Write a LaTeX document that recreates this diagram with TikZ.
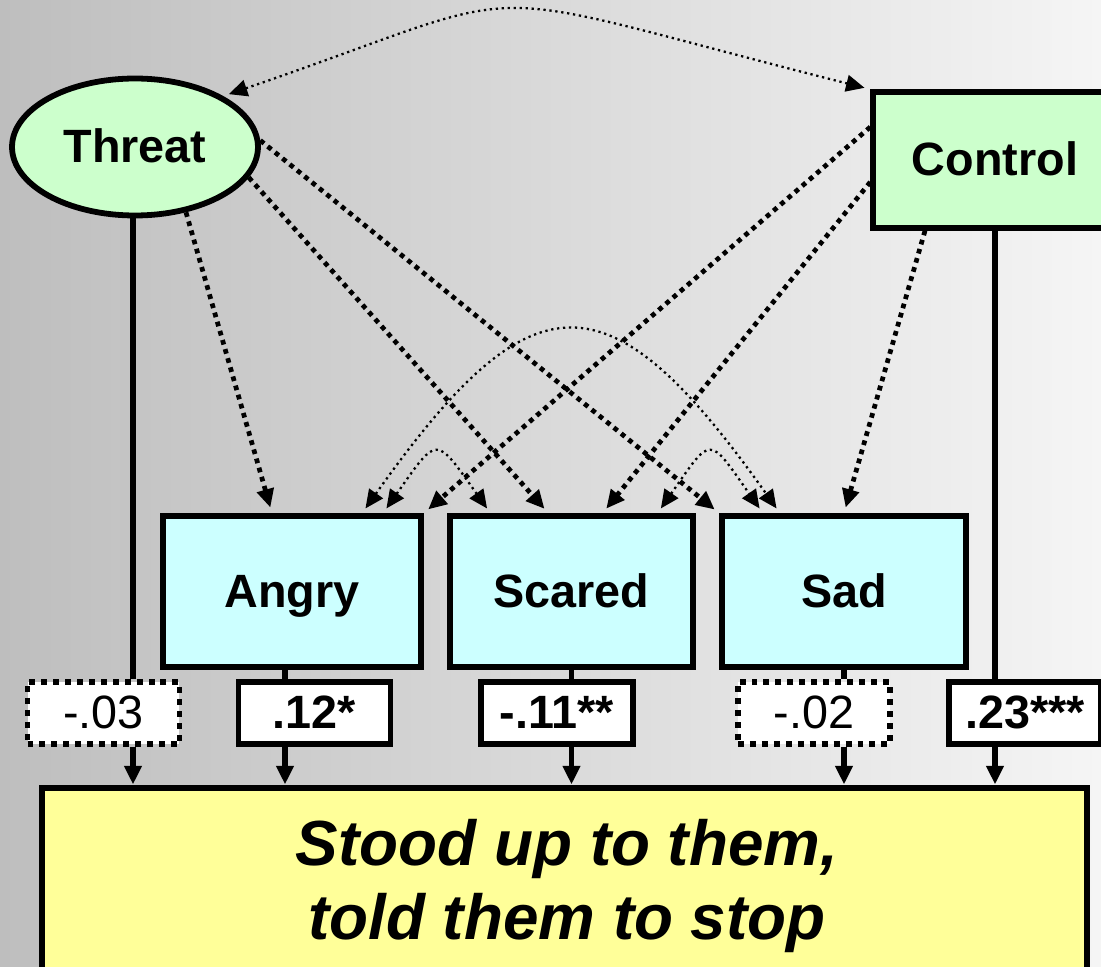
\documentclass[tikz,border=0pt]{standalone}
\usepackage{fontspec}
\setmainfont{Liberation Sans}
\usetikzlibrary{arrows.meta,shapes.geometric,calc}
\definecolor{threatfill}{HTML}{CCFFCC}
\definecolor{emofill}{HTML}{CCFFFF}
\definecolor{outfill}{HTML}{FFFF99}
\definecolor{bgleft}{HTML}{BEBEBE}
\definecolor{bgright}{HTML}{F5F5F5}
\begin{document}
\begin{tikzpicture}[x=0.02cm,y=-0.02cm,
  bx/.style={draw, line width=3.1pt, inner sep=0pt, text height=23.5pt, text depth=5.3pt, font=\fontsize{26.6}{32}\selectfont\bfseries},
  lab/.style={draw, fill=white, line width=3.1pt, minimum width=3.04cm, minimum height=1.24cm, inner sep=0pt, text height=22.5pt, text depth=5.3pt, font=\fontsize{26.6}{32}\selectfont},
  labdot/.style={lab, dash pattern=on 3.4pt off 3.4pt},
  tipshape/.tip={Triangle[length=10.5pt,width=9.5pt]},
  solidline/.style={line width=3pt},
  solidarr/.style={line width=3pt, -tipshape, shorten >=0.5pt},
  thickdot/.style={line width=2.7pt, dash pattern=on 2.7pt off 2.7pt, -tipshape, shorten >=3.4pt},
  thindot/.style={line width=1.3pt, dash pattern=on 1.3pt off 2.1pt, tipshape-tipshape, shorten >=3.4pt, shorten <=3.4pt}
]
\useasboundingbox (0,0) rectangle (1101,966);
\clip (0,0) rectangle (1101,966);
\shade[left color=bgleft, right color=bgright] (0,0) rectangle (1101,966);

% nodes
\node[bx, ellipse, fill=threatfill, minimum width=4.92cm, minimum height=2.74cm, line width=3.3pt] (threat) at (135,147) {Threat};
\node[bx, fill=threatfill, minimum width=4.88cm, minimum height=2.72cm] (control) at (995,160) {Control};
\node[bx, fill=emofill, minimum width=5.16cm, minimum height=3.02cm] (angry) at (292,591.5) {Angry};
\node[bx, fill=emofill, minimum width=4.86cm, minimum height=3.02cm] (scared) at (571.5,591.5) {Scared};
\node[bx, fill=emofill, minimum width=4.88cm, minimum height=3.02cm] (sad) at (844,591.5) {Sad};
\node[draw, line width=3.1pt, fill=outfill, minimum width=20.9cm, minimum height=5.24cm, inner sep=0pt] (outcome) at (564.5,919) {};
\node[font=\fontsize{36.3}{42}\selectfont\bfseries\itshape, align=center, inner sep=0pt] (outtext) at (567,886) {Stood up to them,\\told them to stop};

% labels
\node[labdot] (l1) at (103.5,713) {-.03};
\node[lab, font=\fontsize{26.6}{32}\selectfont\bfseries] (l2) at (314.5,713) {.12*};
\node[lab, font=\fontsize{26.6}{32}\selectfont\bfseries] (l3) at (557,713) {-.11**};
\node[labdot] (l4) at (814,713) {-.02};
\node[lab, font=\fontsize{26.6}{32}\selectfont\bfseries] (l5) at (1025,713) {.23***};

% solid paths to outcome
\coordinate (ax) at ($(angry.south)+(-7,0)$);
\coordinate (tx) at ($(threat.south)+(-2,0)$);
\draw[solidline] (tx) -- (tx |- l1.north);
\draw[solidarr] (tx |- l1.south) -- (tx |- outcome.north);
\draw[solidline] (ax) -- (ax |- l2.north);
\draw[solidarr] (ax |- l2.south) -- (ax |- outcome.north);
\draw[solidline] (scared.south) -- (scared.south |- l3.north);
\draw[solidarr] (scared.south |- l3.south) -- (scared.south |- outcome.north);
\draw[solidline] (sad.south) -- (sad.south |- l4.north);
\draw[solidarr] (sad.south |- l4.south) -- (sad.south |- outcome.north);
\draw[solidline] (control.south) -- (control.south |- l5.north);
\draw[solidarr] (control.south |- l5.south) -- (control.south |- outcome.north);

% dotted paths from threat and control
\draw[thickdot] (threat.-52.7) -- ($(angry.north)+(-20,0)$);
\draw[thickdot] (threat.-15) -- ($(scared.north)+(-23,0)$);
\draw[thickdot] (threat.3) -- (sad.north west);
\draw[thickdot] ($(control.west)+(0,-33)$) -- (angry.north east);
\draw[thickdot] ($(control.west)+(0,22)$) -- ($(scared.north)+(31,0)$);
\draw[thickdot] ($(control.south)+(-70,0)$) -- (sad.north);

% correlations
\draw[thindot] (threat.30) .. controls (556,-18) and (446,-18) .. (control.north west);
\draw[thindot] ($(angry.north)+(70,0)$) .. controls (533,272) and (609,272) .. ($(sad.north)+(-64,0)$);
\draw[thindot] ($(angry.north)+(91,0)$) .. controls (438,435) and (435,435) .. ($(scared.north)+(-81,0)$);
\draw[thindot] ($(scared.north)+(86,0)$) .. controls (712,435) and (708,435) .. ($(sad.north)+(-81,0)$);
\end{tikzpicture}
\end{document}
